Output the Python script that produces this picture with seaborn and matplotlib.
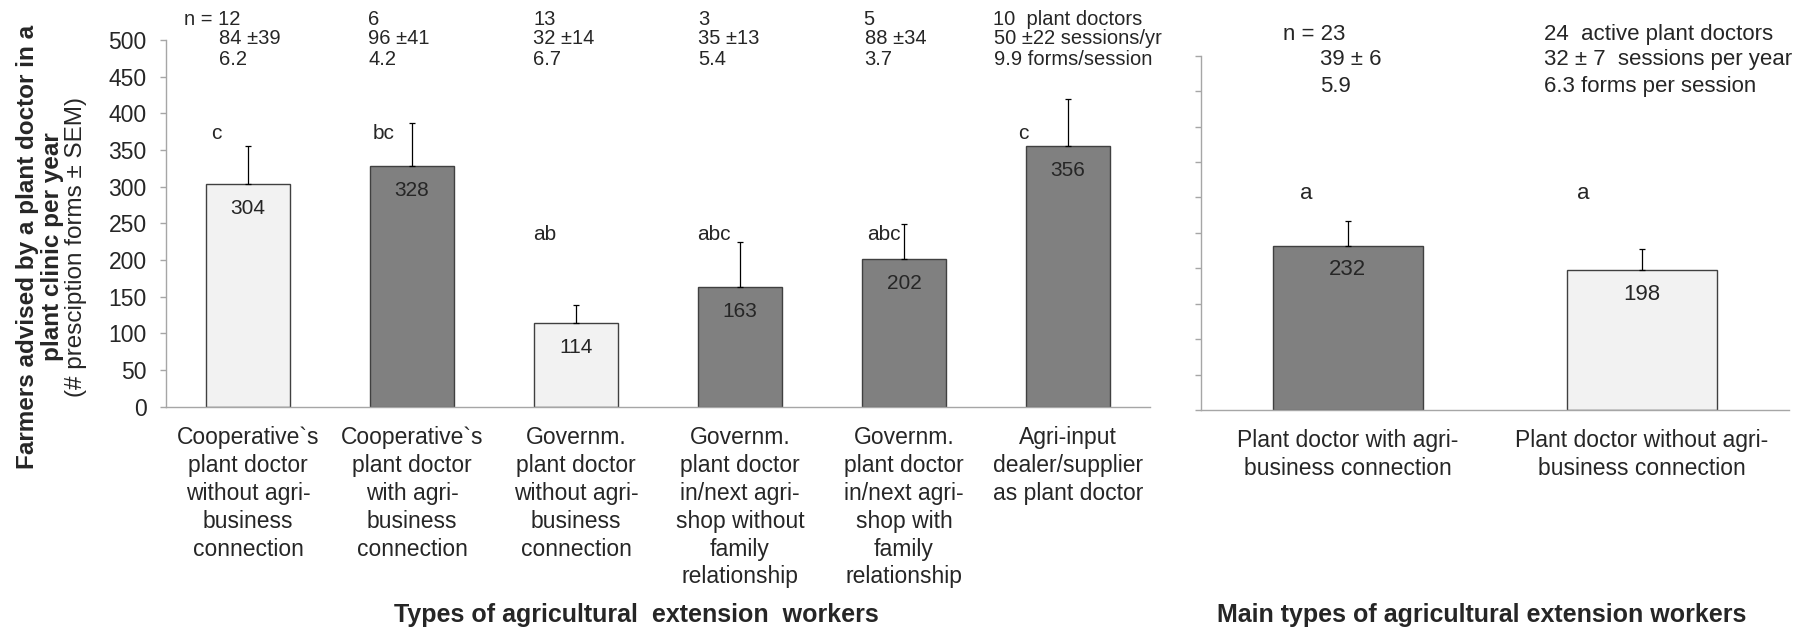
import numpy as np
import pandas as pd
import matplotlib
matplotlib.use("Agg")
import matplotlib.pyplot as plt
import seaborn as sns

# data
left_labels = [
    "Cooperative`s\nplant doctor\nwithout agri-\nbusiness\nconnection",
    "Cooperative`s\nplant doctor\nwith agri-\nbusiness\nconnection",
    "Governm.\nplant doctor\nwithout agri-\nbusiness\nconnection",
    "Governm.\nplant doctor\nin/next agri-\nshop without\nfamily\nrelationship",
    "Governm.\nplant doctor\nin/next agri-\nshop with\nfamily\nrelationship",
    "Agri-input\ndealer/supplier\nas plant doctor",
]
left_means = [304, 328, 114, 163, 202, 356]
left_sem = [52, 59, 25, 61, 47, 64]
left_letters = ["c", "bc", "ab", "abc", "abc", "c"]
left_shade = ["light", "dark", "light", "dark", "dark", "dark"]
left_n = ["n = 12", "6", "13", "3", "5", "10  plant doctors"]
left_sessions = ["84 ±39", "96 ±41", "32 ±14", "35 ±13", "88 ±34", "50 ±22 sessions/yr"]
left_forms = ["6.2", "4.2", "6.7", "5.4", "3.7", "9.9 forms/session"]

right_labels = [
    "Plant doctor with agri-\nbusiness connection",
    "Plant doctor without agri-\nbusiness connection",
]
right_means = [232, 198]
right_sem = [35, 29]
right_letters = ["a", "a"]
right_shade = ["dark", "light"]
right_col1 = ["n = 23", "39 ± 6", "5.9"]
right_col2 = ["24  active plant doctors", "32 ± 7  sessions per year", "6.3 forms per session"]

# styling / layout
COLORS = {"light": "#f2f2f2", "dark": "#808080"}
EDGE = "#404040"
AXIS_GREY = "#a6a6a6"
yticks = np.arange(0, 501, 50)

sns.set_style("white")
plt.rcParams["font.family"] = ["Liberation Sans", "DejaVu Sans"]

fig = plt.figure(figsize=(18.04, 6.32), dpi=100)
ax1 = fig.add_axes([0.0920, 0.3565, 0.5455, 0.5802])
ax2 = fig.add_axes([0.6657, 0.3513, 0.3259, 0.5606])


def draw_panel(ax, labels, means, sem, shade):
    df = pd.DataFrame({"cat": labels, "val": means})
    pal = {lab: COLORS[s] for lab, s in zip(labels, shade)}
    sns.barplot(data=df, x="cat", y="val", hue="cat", palette=pal, order=labels,
                legend=False, width=0.51, edgecolor=EDGE, linewidth=1.0,
                errorbar=None, saturation=1, ax=ax)
    x = np.arange(len(labels))
    ax.errorbar(x, means, yerr=[np.zeros(len(means)), sem], fmt="none",
                ecolor="black", elinewidth=0.9, capsize=2.5, capthick=0.9)
    ax.set_xlim(-0.5, len(labels) - 0.5)
    ax.set_ylim(0, 500)
    ax.set_yticks(yticks)
    ax.set_xlabel("")
    ax.set_ylabel("")
    for s in ["top", "right"]:
        ax.spines[s].set_visible(False)
    for s in ["left", "bottom"]:
        ax.spines[s].set_color(AXIS_GREY)
        ax.spines[s].set_linewidth(1.0)
    ax.set_xticks(x)
    ax.set_xticklabels(labels, fontsize=16.5, linespacing=1.27)
    ax.set_xticks(np.arange(-0.5, len(labels), 1.0), minor=True)
    ax.tick_params(axis="x", which="major", length=0, pad=14)
    ax.tick_params(axis="x", which="minor", length=5.5, width=1.0,
                   color=AXIS_GREY, direction="out")
    ax.tick_params(axis="y", length=4, width=1.0, color=AXIS_GREY,
                   direction="out", left=True, labelsize=16.5, pad=10)
    return x


x1 = draw_panel(ax1, left_labels, left_means, left_sem, left_shade)
x2 = draw_panel(ax2, right_labels, right_means, right_sem, right_shade)
ax2.set_yticklabels([])

# value labels inside the bars
for xi, v in zip(x1, left_means):
    ax1.annotate(str(v), (xi, v), xytext=(0, -11), textcoords="offset points",
                 ha="center", va="top", fontsize=15)
for xi, v in zip(x2, right_means):
    ax2.annotate(str(v), (xi, v), xytext=(0, -10), textcoords="offset points",
                 ha="center", va="top", fontsize=16)

# significance letters
letter_dx = [-0.19, -0.17, -0.19, -0.16, -0.12, -0.27]
letter_y = [373, 373, 235, 235, 235, 373]
for xi, lt, dx, ly in zip(x1, left_letters, letter_dx, letter_y):
    ax1.text(xi + dx, ly, lt, ha="center", va="center", fontsize=15)
for xi, lt, dx in zip(x2, right_letters, [-0.14, -0.20]):
    ax2.text(xi + dx, 306, lt, ha="center", va="center", fontsize=16)

# sample size / sessions / forms above the bars
tr1 = ax1.get_xaxis_transform()
line1_x = [-0.39, 0.732, 1.738, 2.744, 3.75, 4.543]
line23_x = [-0.177, 0.732, 1.738, 2.744, 3.76, 4.55]
for i in range(len(left_n)):
    ax1.text(line1_x[i], 1.057, left_n[i], transform=tr1, ha="left", va="center",
             fontsize=14.5, clip_on=False)
    ax1.text(line23_x[i], 1.003, left_sessions[i], transform=tr1, ha="left",
             va="center", fontsize=14.5, clip_on=False)
    ax1.text(line23_x[i], 0.948, left_forms[i], transform=tr1, ha="left",
             va="center", fontsize=14.5, clip_on=False)

tr2 = ax2.get_xaxis_transform()
col1_x = [-0.221, -0.095, -0.095]
rows_y = [1.060, 0.988, 0.914]
for txt, cx, ry in zip(right_col1, col1_x, rows_y):
    ax2.text(cx, ry, txt, transform=tr2, ha="left", va="center", fontsize=16,
             clip_on=False)
for txt, ry in zip(right_col2, rows_y):
    ax2.text(0.667, ry, txt, transform=tr2, ha="left", va="center", fontsize=16,
             clip_on=False)

# axis titles
fig.text(0.0155, 0.609, "Farmers advised by a plant doctor in a", rotation=90,
         fontweight="bold", fontsize=17.5, ha="center", va="center")
fig.text(0.029, 0.609, "plant clinic per year", rotation=90,
         fontweight="bold", fontsize=17.5, ha="center", va="center")
fig.text(0.042, 0.609, "(# presciption forms ± SEM)", rotation=90,
         fontsize=17.5, ha="center", va="center")
fig.text(0.353, 0.027, "Types of agricultural  extension  workers",
         fontweight="bold", fontsize=18, ha="center", va="center")
fig.text(0.8215, 0.027, "Main types of agricultural extension workers",
         fontweight="bold", fontsize=18, ha="center", va="center")

fig.savefig("out.png", dpi=100)
